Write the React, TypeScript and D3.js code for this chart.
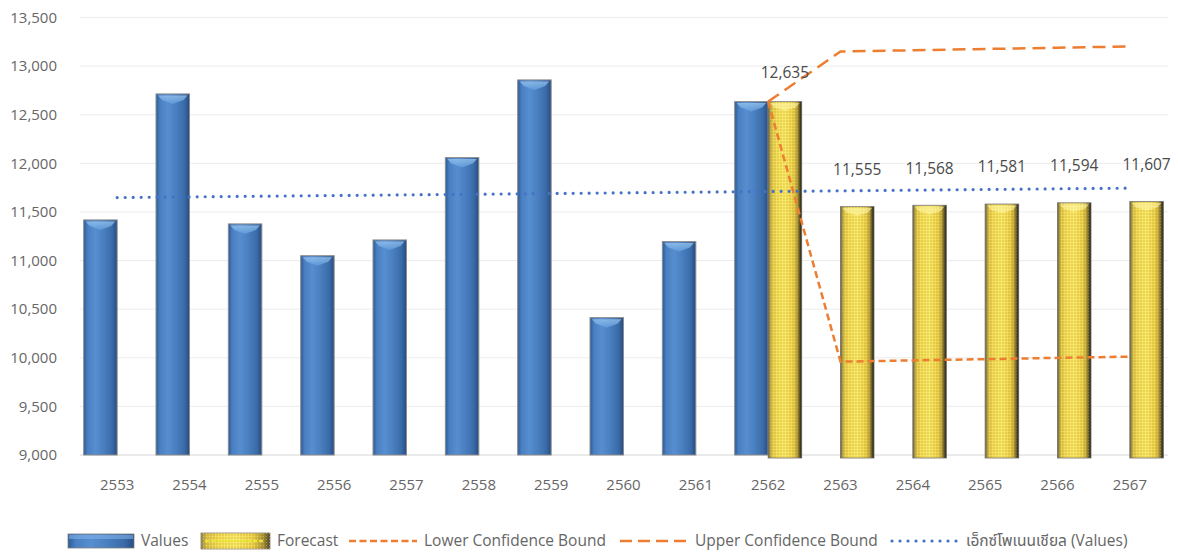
import React from 'react';
import * as d3 from 'd3';

const years = ['2553', '2554', '2555', '2556', '2557', '2558', '2559', '2560', '2561', '2562', '2563', '2564', '2565', '2566', '2567'];
const values: (number | null)[] = [11418, 12714, 11377, 11050, 11212, 12059, 12858, 10413, 11195, 12635, null, null, null, null, null];
const forecast: (number | null)[] = [null, null, null, null, null, null, null, null, null, 12635, 11555, 11568, 11581, 11594, 11607];
const lowerBound: (number | null)[] = [null, null, null, null, null, null, null, null, null, 12635, 9960, 9973, 9986, 9999, 10012];
const upperBound: (number | null)[] = [null, null, null, null, null, null, null, null, null, 12635, 13150, 13163, 13176, 13189, 13202];
const trendYears = ['2553', '2567'];
const trendValues = [11648, 11745];
const yTicks = [9000, 9500, 10000, 10500, 11000, 11500, 12000, 12500, 13000, 13500];
const legendLabels = ['Values', 'Forecast', 'Lower Confidence Bound', 'Upper Confidence Bound', 'เอ็กซ์โพเนนเชียล (Values)'];

const W = 1178;
const H = 554;
const FONT = "'Open Sans', 'Noto Sans Thai', 'Noto Sans Thai UI', Loma, Garuda, sans-serif";

export default function App() {
  const x = d3.scaleBand<string>().domain(years).range([81, 1166]).padding(0);
  const bw = x.bandwidth();
  const sub = d3.scaleBand<string>().domain(['v', 'f']).range([0, bw]).paddingInner(0).paddingOuter(0.08);
  const y = d3.scaleLinear().domain([9000, 13500]).range([455, 17.5]);
  const cx = (yr: string) => (x(yr) as number) + bw / 2;
  const fmt = d3.format(',');

  const lineGen = d3
    .line<[string, number | null]>()
    .defined((d) => d[1] !== null)
    .x((d) => cx(d[0]))
    .y((d) => y(d[1] as number));

  const lowerPath = lineGen(years.map((yr, i) => [yr, lowerBound[i]])) || '';
  const upperPath = lineGen(years.map((yr, i) => [yr, upperBound[i]])) || '';
  const trendPath = lineGen(trendYears.map((yr, i) => [yr, trendValues[i]])) || '';

  const sw = sub.bandwidth();

  const blueBar = (yr: string, v: number, key: string) => {
    const bx = (x(yr) as number) + (sub('v') as number);
    const top = y(v);
    const h = y(9000) - top;
    return (
      <g key={key}>
        <rect x={bx} y={top} width={sw} height={h} fill="url(#blueBody)" stroke="#8d8d8d" strokeWidth={1} />
        <path
          d={`M${bx + 2},${top + 1.5} L${bx + sw - 2},${top + 1.5} L${bx + sw - 6},${top + 6} L${bx + sw / 2},${top + 10} L${bx + 6},${top + 6} Z`}
          fill="url(#blueCap)"
          opacity={0.7}
        />
      </g>
    );
  };

  const yellowBar = (yr: string, v: number, key: string) => {
    const bx = (x(yr) as number) + (sub('f') as number);
    const top = y(v);
    const h = y(9000) - top + 3;
    return (
      <g key={key}>
        <rect x={bx} y={top} width={sw} height={h} fill="url(#yellowBody)" stroke="#8a8a8a" strokeWidth={1} />
        <rect x={bx + 2} y={top} width={sw - 4} height={h} fill="url(#dots)" opacity={0.5} />
        <rect x={bx} y={top} width={sw} height={h} fill="url(#yellowShade)" />
        <path
          d={`M${bx + 2},${top + 1.5} L${bx + sw - 2},${top + 1.5} L${bx + sw - 6},${top + 6} L${bx + sw / 2},${top + 9} L${bx + 6},${top + 6} Z`}
          fill="#fff6a8"
          opacity={0.6}
        />
      </g>
    );
  };

  const legY = 541;
  const legendItems = [
    { sx: 68, tx: 141 },
    { sx: 201, tx: 277 },
    { sx: 349, tx: 424 },
    { sx: 620, tx: 695 },
    { sx: 890, tx: 966 },
  ];
  const textCol = '#666666';

  return (
    <svg width={W} height={H} style={{ position: 'absolute', left: 0, top: 0, background: '#fff' }} fontFamily={FONT}>
      <defs>
        <linearGradient id="blueBody" x1="0" x2="1" y1="0" y2="0">
          <stop offset="0%" stopColor="#2b5a98" />
          <stop offset="12%" stopColor="#4a80c2" />
          <stop offset="35%" stopColor="#578ed0" />
          <stop offset="60%" stopColor="#497fc0" />
          <stop offset="85%" stopColor="#3a6ba7" />
          <stop offset="100%" stopColor="#264c82" />
        </linearGradient>
        <linearGradient id="blueCap" x1="0" x2="0" y1="0" y2="1">
          <stop offset="0%" stopColor="#a0cbf3" />
          <stop offset="100%" stopColor="#64a0e0" />
        </linearGradient>
        <linearGradient id="yellowBody" x1="0" x2="1" y1="0" y2="0">
          <stop offset="0%" stopColor="#8d8048" />
          <stop offset="8%" stopColor="#d8c04a" />
          <stop offset="25%" stopColor="#f3dc55" />
          <stop offset="50%" stopColor="#f8e866" />
          <stop offset="75%" stopColor="#ecd048" />
          <stop offset="90%" stopColor="#a89238" />
          <stop offset="100%" stopColor="#3e3922" />
        </linearGradient>
        <linearGradient id="yellowShade" x1="0" x2="1" y1="0" y2="0">
          <stop offset="0%" stopColor="#000" stopOpacity={0.25} />
          <stop offset="12%" stopColor="#000" stopOpacity={0} />
          <stop offset="85%" stopColor="#000" stopOpacity={0} />
          <stop offset="100%" stopColor="#000" stopOpacity={0.45} />
        </linearGradient>
        <pattern id="dots" width={3} height={3} patternUnits="userSpaceOnUse">
          <circle cx={1} cy={1} r={0.8} fill="#b8941c" />
          <circle cx={2.5} cy={2.5} r={0.5} fill="#fff4a0" />
        </pattern>
      </defs>

      {yTicks.map((t) => (
        <line key={'g' + t} x1={80} x2={1168} y1={y(t)} y2={y(t)} stroke={t === 9000 ? '#d6d6d6' : '#ececec'} strokeWidth={1} />
      ))}

      {yTicks.map((t) => (
        <text key={'t' + t} x={57} y={y(t)} dy="0.35em" textAnchor="end" fontSize={15} fill={textCol}>
          {fmt(t)}
        </text>
      ))}

      {years.map((yr) => (
        <text key={'x' + yr} x={cx(yr)} y={485} dy="0.35em" textAnchor="middle" fontSize={15} fill={textCol}>
          {yr}
        </text>
      ))}

      {years.map((yr, i) => (values[i] !== null ? blueBar(yr, values[i] as number, 'b' + yr) : null))}
      {years.map((yr, i) => (forecast[i] !== null ? yellowBar(yr, forecast[i] as number, 'f' + yr) : null))}

      <path d={trendPath} fill="none" stroke="#4472c4" strokeWidth={3.2} strokeDasharray="0,8" strokeLinecap="round" />

      <path d={lowerPath} fill="none" stroke="#ed7d31" strokeWidth={2.5} strokeDasharray="7,4" />
      <path d={upperPath} fill="none" stroke="#ed7d31" strokeWidth={2.5} strokeDasharray="13,7" />

      {years.map((yr, i) =>
        forecast[i] !== null ? (
          <text
            key={'l' + yr}
            x={(x(yr) as number) + (sub('f') as number) + sw / 2}
            y={y(forecast[i] as number) - (i === 9 ? 29 : 37)}
            dy="0.35em"
            textAnchor="middle"
            fontSize={15.5}
            fill="#4a4a4a"
          >
            {fmt(forecast[i] as number)}
          </text>
        ) : null
      )}

      <g>
        <rect x={legendItems[0].sx} y={legY - 7} width={66} height={14} fill="url(#blueBody)" stroke="#7f7f7f" strokeWidth={0.8} />
        <rect x={legendItems[0].sx + 1} y={legY - 6} width={64} height={4} fill="#7fb2ea" opacity={0.6} />
        <text x={legendItems[0].tx} y={legY} dy="0.35em" fontSize={15.5} fill={textCol}>{legendLabels[0]}</text>

        <rect x={legendItems[1].sx} y={legY - 8} width={69} height={16} fill="url(#yellowBody)" stroke="#8a7a7a" strokeWidth={0.8} />
        <rect x={legendItems[1].sx} y={legY - 8} width={69} height={16} fill="url(#dots)" opacity={0.5} />
        <line x1={legendItems[1].sx + 4} x2={legendItems[1].sx + 64} y1={legY} y2={legY} stroke="#e8e830" strokeWidth={2} strokeDasharray="4,2" />
        <text x={legendItems[1].tx} y={legY} dy="0.35em" fontSize={15.5} fill={textCol}>{legendLabels[1]}</text>

        <line x1={legendItems[2].sx} x2={legendItems[2].sx + 68} y1={legY} y2={legY} stroke="#ed7d31" strokeWidth={2.5} strokeDasharray="7,3.5" />
        <text x={legendItems[2].tx} y={legY} dy="0.35em" fontSize={15.5} fill={textCol}>{legendLabels[2]}</text>

        <line x1={legendItems[3].sx} x2={legendItems[3].sx + 68} y1={legY} y2={legY} stroke="#ed7d31" strokeWidth={2.5} strokeDasharray="12,6" />
        <text x={legendItems[3].tx} y={legY} dy="0.35em" fontSize={15.5} fill={textCol}>{legendLabels[3]}</text>

        <line x1={legendItems[4].sx + 2} x2={legendItems[4].sx + 68} y1={legY} y2={legY} stroke="#4472c4" strokeWidth={3.2} strokeDasharray="0,8" strokeLinecap="round" />
        <text x={legendItems[4].tx} y={legY} dy="0.35em" fontSize={15.5} fill={textCol}>{legendLabels[4]}</text>
      </g>
    </svg>
  );
}
